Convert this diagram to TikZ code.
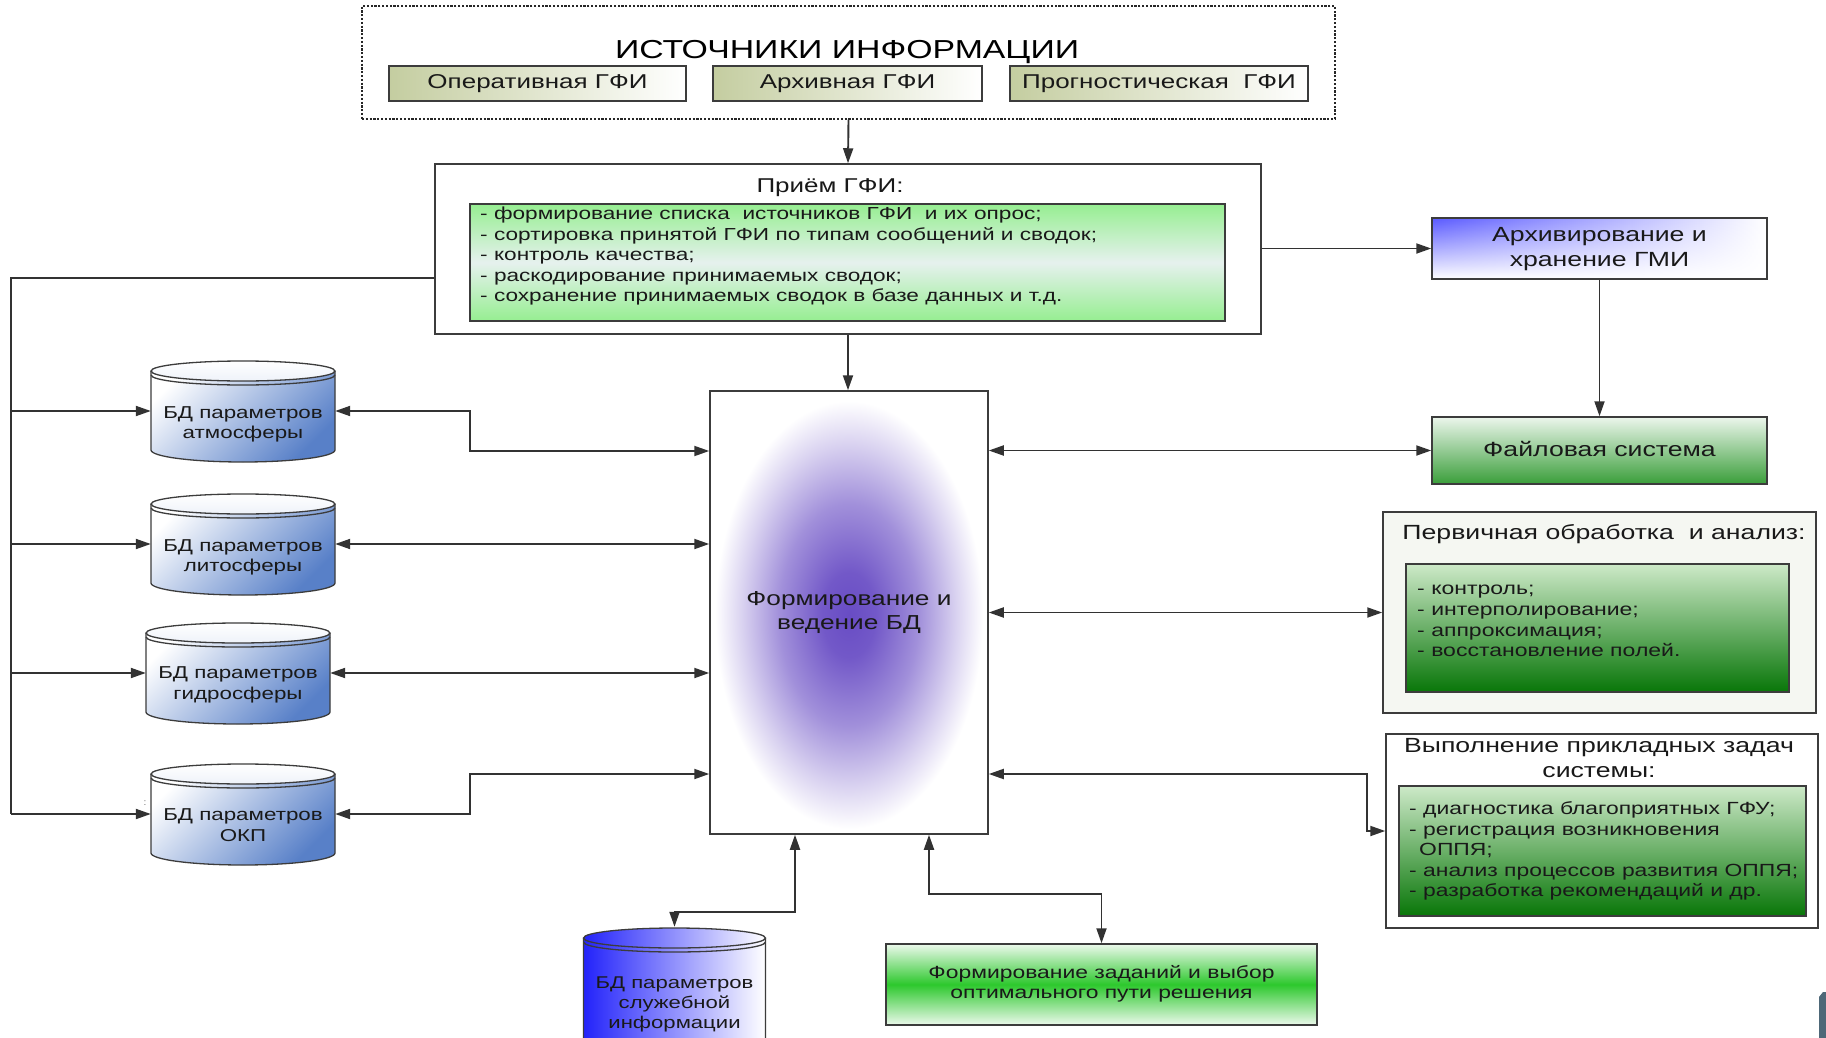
\documentclass[tikz,border=0pt]{standalone}
\usepackage{fontspec}
\setmainfont[FakeStretch=1.3]{Liberation Sans}
\usetikzlibrary{arrows.meta,fadings}
\definecolor{linec}{RGB}{50,50,50}
\definecolor{boxc}{RGB}{60,60,60}
\definecolor{txtc}{RGB}{25,25,25}
\definecolor{oliveC}{RGB}{196,205,160}
\definecolor{priemG}{RGB}{150,238,145}
\definecolor{priemM}{RGB}{230,241,238}
\definecolor{archB}{RGB}{90,90,255}
\definecolor{fsTop}{RGB}{236,246,236}
\definecolor{fsBot}{RGB}{58,158,58}
\definecolor{dgTop}{RGB}{205,233,200}
\definecolor{dgBot}{RGB}{8,118,8}
\definecolor{pervBg}{RGB}{245,247,242}
\definecolor{zadE}{RGB}{236,249,236}
\definecolor{zadM}{RGB}{45,200,45}
\definecolor{cylB}{RGB}{88,128,200}
\definecolor{servB}{RGB}{35,35,250}
\definecolor{purpC}{RGB}{104,76,196}
\definecolor{slateC}{RGB}{78,104,120}
\pgfdeclareradialshading{purpsh}{\pgfpoint{0bp}{0bp}}{color(0bp)=(purpC); color(5bp)=(purpC!93!white); color(13bp)=(purpC!62!white); color(20bp)=(purpC!25!white); color(25bp)=(white); color(50bp)=(white)}
\newcommand\fsz[2]{\fontsize{#1}{#2}\selectfont}
% name, cx, top, rx, height, body shading, top shading
\newcommand\dbcyl[7]{%
  \path[#6] (#2-#4,#3+11) -- (#2-#4,#3+#5-12) arc[start angle=180,end angle=0,x radius=#4,y radius=12] -- (#2+#4,#3+11) arc[start angle=0,end angle=-180,x radius=#4,y radius=10] -- cycle;
  \draw[cylline] (#2-#4,#3+11) -- (#2-#4,#3+#5-12) arc[start angle=180,end angle=0,x radius=#4,y radius=12] -- (#2+#4,#3+11);
  \path[cylline,#7] (#2,#3+11) ellipse[x radius=#4,y radius=10];
  \draw[cylline] (#2-#4,#3+15) arc[start angle=180,end angle=0,x radius=#4,y radius=10];
  \node[inner sep=0pt, minimum width={2*#4}, minimum height={#5}] (#1) at (#2,#3+#5/2) {};
}
\tikzset{
  ln/.style={draw=linec, line width=1.9pt},
  arr/.style={ln, -{Triangle[length=15pt,width=10pt]}},
  barr/.style={ln, {Triangle[length=15pt,width=10pt]}-{Triangle[length=15pt,width=10pt]}},
  bx/.style={draw=boxc, line width=1.5pt, inner sep=0pt, text=txtc, align=center},
  subbox/.style={bx, left color=oliveC, right color=white, minimum height=35pt, font=\fsz{20}{24}, text height=14pt, text depth=4pt},
  lst/.style={anchor=north west, inner sep=0pt, align=left, text=txtc},
  ctx/.style={inner sep=0pt, align=center, text=txtc},
  cylline/.style={draw=boxc, line width=1.3pt}
}
\begin{document}
\begin{tikzpicture}[x=1pt,y=-1pt]
\useasboundingbox (0,0) rectangle (1826,1038);
\fill[white] (0,0) rectangle (1826,1038);

% sources
\node[draw=black!85, line width=1.4pt, dash pattern=on 2.2pt off 1.6pt, minimum width=973pt, minimum height=113pt, inner sep=0pt] (src) at (848.5,62.5) {};
\node[anchor=base, inner sep=0pt, font=\fsz{26}{30}, text=black] (srcT) at (847,59) {ИСТОЧНИКИ ИНФОРМАЦИИ};
\node[subbox, minimum width=297pt] (oper) at (537.5,83.5) {Оперативная ГФИ};
\node[subbox, minimum width=269pt] (arhv) at (847.5,83.5) {Архивная ГФИ};
\node[subbox, minimum width=298pt] (prog) at (1159,83.5) {Прогностическая~ ГФИ};

% priem
\node[bx, fill=white, minimum width=826pt, minimum height=170pt] (priem) at (848,249) {};
\node[bx, line width=1.1pt, top color=priemG, bottom color=priemG, middle color=priemM, minimum width=755pt, minimum height=117pt] (priemIn) at (847.5,262.5) {};
\node[anchor=base, inner sep=0pt, font=\fsz{20}{24}, text=txtc] (priemT) at (830,192.5) {Приём ГФИ:};
\node[lst, font=\fsz{17.4}{20.5}] (priemL) at (480,205) {\strut - формирование списка~ источников ГФИ~ и их опрос;\\- сортировка принятой ГФИ по типам сообщений и сводок;\\- контроль качества;\\- раскодирование принимаемых сводок;\\- сохранение принимаемых сводок в базе данных и т.д.};

% archive
\path[left color=archB, right color=white] (1432,218) rectangle (1767,279);
\fill[white, path fading=north] (1432,218) rectangle (1767,279);
\node[bx, minimum width=335pt, minimum height=61pt, font=\fsz{20.5}{25}] (arch) at (1599.5,248.5) {\strut Архивирование и\\хранение ГМИ\strut};

% file system
\node[bx, top color=fsTop, bottom color=fsBot, minimum width=335pt, minimum height=67pt, font=\fsz{20.5}{25}, text height=15pt, text depth=4pt] (fs) at (1599.5,450.5) {Файловая система};

% main
\shade[shading=purpsh] (849,615) ellipse[x radius=134, y radius=214];
\node[bx, minimum width=278pt, minimum height=443pt, font=\fsz{20.2}{24}] (main) at (849,612.5) {\strut Формирование и\\ведение БД\strut};

% primary processing
\node[bx, fill=pervBg, minimum width=433pt, minimum height=201pt] (perv) at (1599.5,612.5) {};
\node[anchor=base, inner sep=0pt, font=\fsz{20.5}{24}, text=txtc] (pervT) at (1604,539.5) {Первичная обработка~ и анализ:};
\node[bx, line width=1.1pt, top color=dgTop, bottom color=dgBot, minimum width=383pt, minimum height=128pt] (pervIn) at (1597.5,628) {};
\node[lst, font=\fsz{17.7}{20.7}] (pervL) at (1417,580) {\strut - контроль;\\- интерполирование;\\- аппроксимация;\\- восстановление полей.};

% applied tasks
\node[bx, fill=white, minimum width=432pt, minimum height=194pt] (vyp) at (1602,831) {};
\node[anchor=north, inner sep=0pt, align=center, font=\fsz{20.5}{24.5}, text=txtc] (vypT) at (1599,735.5) {\strut Выполнение прикладных задач\\системы:};
\node[bx, line width=1.1pt, top color=dgTop, bottom color=dgBot, minimum width=407pt, minimum height=130pt] (vypIn) at (1602.5,851) {};
\node[lst, font=\fsz{17.6}{20.5}] (vypL) at (1409,800.3) {\strut - диагностика благоприятных ГФУ;\\- регистрация возникновения\\\hspace*{10pt}ОППЯ;\\- анализ процессов развития ОППЯ;\\- разработка рекомендаций и др.};

% tasks
\node[bx, top color=zadE, bottom color=zadE, middle color=zadM, minimum width=431pt, minimum height=81pt, font=\fsz{17.6}{20.5}] (zad) at (1101.5,984.5) {\strut Формирование заданий и выбор\\оптимального пути решения\strut};

% cylinders
\dbcyl{atm}{243}{360}{92}{102}{top color=white, bottom color=cylB, shading angle=45}{top color=white, bottom color=cylB!10}
\node[ctx, font=\fsz{17.2}{20.5}] (atmT) at (243,424.5) {\strut БД параметров\\атмосферы\strut};
\dbcyl{lito}{243}{493}{92}{102}{top color=white, bottom color=cylB, shading angle=45}{top color=white, bottom color=cylB!10}
\node[ctx, font=\fsz{17.2}{20.5}] (litoT) at (243,557.5) {\strut БД параметров\\литосферы\strut};
\dbcyl{hydro}{238}{622}{92}{102}{top color=white, bottom color=cylB, shading angle=45}{top color=white, bottom color=cylB!10}
\node[ctx, font=\fsz{17.2}{20.5}] (hydroT) at (238,685) {\strut БД параметров\\гидросферы\strut};
\dbcyl{okp}{243}{763}{92}{102}{top color=white, bottom color=cylB, shading angle=45}{top color=white, bottom color=cylB!10}
\node[ctx, font=\fsz{17.2}{20.5}] (okpT) at (243,827) {\strut БД параметров\\ОКП\strut};
\node[inner sep=0pt, font=\fsz{9}{10}, text=gray] (dots) at (145,803) {:};
\dbcyl{serv}{674.5}{927}{91}{125}{left color=servB, right color=white}{left color=servB, right color=white}
\node[ctx, font=\fsz{17}{20}] (servT) at (674.5,1004.4) {\strut БД параметров\\служебной\\информации\strut};

% connectors
\coordinate (bus) at (11,278);
\draw[ln] (priem.west |- bus) -- (bus) -- (bus |- okp.west);
\draw[arr] (bus |- atm.west) -- (atm.west);
\draw[arr] (bus |- lito.west) -- (lito.west);
\draw[arr] (bus |- hydro.west) -- (hydro.west);
\draw[arr] (bus |- okp.west) -- (okp.west);

\draw[arr] (src.south) -- (priem.north);
\draw[arr] (priem.south) -- (priem.south |- main.north);
\draw[arr] (priem.east |- arch.west) -- (arch.west);
\draw[arr] (arch.south) -- (fs.north);

\coordinate (jA) at (470,451);
\draw[barr] (atm.east) -| (jA) -- (main.west |- jA);
\draw[barr] (lito.east) -- (main.west |- lito.east);
\draw[barr] (hydro.east) -- (main.west |- hydro.east);
\coordinate (jD) at (470,774);
\draw[barr] (okp.east) -| (jD) -- (main.west |- jD);
\draw[barr] (main.east |- fs.west) -- (fs.west);
\draw[barr] (main.east |- perv.west) -- (perv.west);
\coordinate (jE) at (1367,774);
\draw[barr] (main.east |- jE) -- (jE) |- (vyp.west);
\coordinate (jF) at (795,912);
\draw[barr] (main.south -| jF) -- (jF) -| (serv.north);
\coordinate (jG) at (929,894);
\draw[barr] (main.south -| jG) -- (jG) -| (zad.north);

% corner fragment
\fill[slateC] (1819,997) -- (1823,992) -- (1826,992) -- (1826,1038) -- (1819,1038) -- cycle;
\end{tikzpicture}
\end{document}
